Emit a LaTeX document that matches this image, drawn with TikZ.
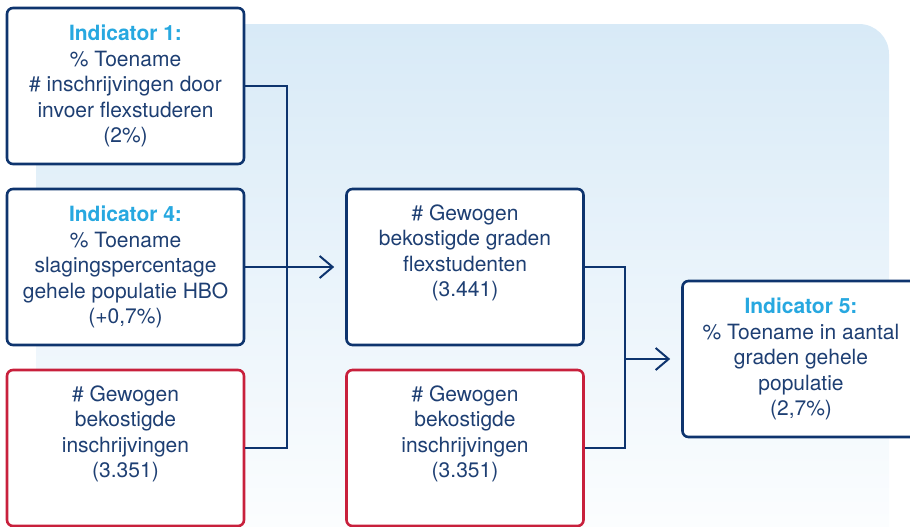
\documentclass[tikz,border=0pt]{standalone}
\usepackage{fontspec}
\setmainfont{TeX Gyre Heros}
\usetikzlibrary{arrows.meta}
\definecolor{navy}{HTML}{0E346E}
\definecolor{rood}{HTML}{C8203C}
\definecolor{cyaan}{HTML}{27A8E0}
\definecolor{tekst}{HTML}{1E3F73}
\definecolor{lichtblauw}{HTML}{D8EAF7}
\begin{document}
\begin{tikzpicture}[x=0.5pt,y=-0.5pt,
  box/.style={draw=navy,fill=white,line width=1.3pt,rounded corners=3pt,minimum width=118.5pt,minimum height=78pt,inner sep=0pt,align=center,text=tekst,font=\fontsize{10.5}{12.7}\selectfont},
  rbox/.style={box,draw=rood},
  kop/.style={},
  lijn/.style={draw=navy,line width=1pt},
  pijl/.style={lijn,-{Straight Barb[length=6.5pt,width=11pt]},shorten >=5.5pt}]
\useasboundingbox (0,0) rectangle (910,526);
\clip (0,0) rectangle (910,526);
\shade[top color=lichtblauw,bottom color=white,rounded corners=15pt] (36,580) -- (36,24) -- (889,24) -- (889,580) -- cycle;
\node[box] (ind1) at (125.5,86) {\textbf{\color{cyaan}Indicator 1:}\\ \% Toename\\ \# inschrijvingen door\\ invoer flexstuderen\\ (2\%)};
\node[box] (ind4) at (125.5,267) {\textbf{\color{cyaan}Indicator 4:}\\ \% Toename\\ slagingspercentage\\ gehele populatie HBO\\ (+0,7\%)};
\node[rbox] (cnt1) at (125.5,448) {\# Gewogen\\ bekostigde\\ inschrijvingen\\ (3.351)\\ \strut};
\node[box] (flex) at (465,267) {\# Gewogen\\ bekostigde graden\\ flexstudenten\\ (3.441)\\ \strut};
\node[rbox] (cnt2) at (465,448) {\# Gewogen\\ bekostigde\\ inschrijvingen\\ (3.351)\\ \strut};
\node[box] (ind5) at (801,359) {\textbf{\color{cyaan}Indicator 5:}\\ \% Toename in aantal\\ graden gehele\\ populatie\\ (2,7\%)};
\coordinate (j1) at (287,267);
\coordinate (j2) at (625,359);
\draw[lijn] (ind1.east) -| (j1) |- (cnt1.east);
\draw[pijl] (ind4.east) -- (flex.west);
\draw[lijn] (flex.east) -| (j2) |- (cnt2.east);
\draw[pijl] (j2) -- (ind5.west);
\end{tikzpicture}
\end{document}
